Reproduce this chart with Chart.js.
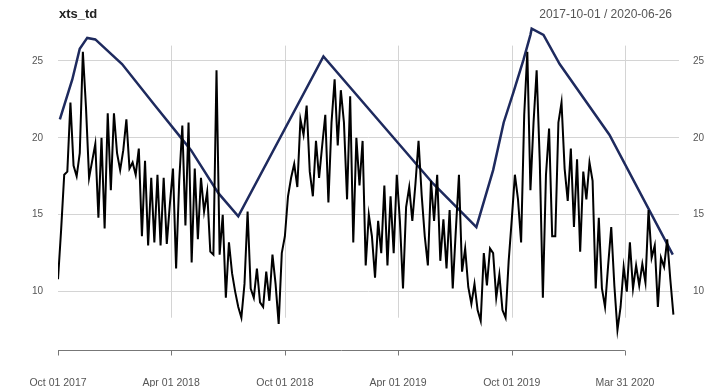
<!DOCTYPE html>
<html>
<head>
<meta charset="utf-8">
<script src="https://cdn.jsdelivr.net/npm/chart.js@4.4.1/dist/chart.umd.min.js"></script>
<style>
  html, body { margin: 0; padding: 0; background: #fff; }
  #wrap { width: 716px; height: 387px; }
</style>
</head>
<body>
<div id="wrap"><canvas id="c" width="716" height="387"></canvas></div>
<script>
// titulo y rango de fechas
const titleText = 'xts_td';
const rangeText = '2017-10-01 / 2020-06-26';

// serie diaria muestreada cada 5 dias desde 2017-10-01
const stepDays = 5;
const tdValues = [
  10.8,14.0,17.6,17.8,22.3,18.2,17.5,19.0,25.6,22.0,17.4,18.5,19.6,14.8,20.0,14.1,21.6,16.6,21.6,19.0,
  17.9,19.2,21.2,18.0,18.4,17.6,19.3,13.6,18.5,13.0,17.4,13.2,17.6,13.0,17.4,13.1,15.7,18.0,11.5,17.2,
  20.8,14.3,21.0,11.9,18.0,13.4,17.4,15.2,16.5,12.6,12.4,24.4,12.4,15.0,9.6,13.2,11.2,10.0,9.0,8.3,
  10.5,15.2,10.2,9.6,11.5,9.3,9.0,11.3,9.4,12.4,10.5,7.9,12.5,13.6,16.2,17.4,18.3,16.8,21.2,20.2,
  22.1,17.8,16.2,19.8,17.4,19.5,21.5,15.8,21.0,23.8,19.5,23.1,21.0,16.0,22.7,13.2,20.0,16.9,19.8,11.7,
  15.0,13.6,10.9,14.6,12.5,16.9,11.7,16.2,12.5,17.6,14.6,10.2,15.5,16.8,14.6,17.0,19.8,16.3,13.6,11.7,
  17.2,14.6,17.6,12.0,14.7,11.5,15.3,10.2,14.0,17.6,11.3,12.8,10.3,9.2,10.5,8.8,8.1,12.5,10.4,12.8,
  12.5,9.6,11.1,8.8,8.3,12.0,14.7,17.6,16.0,13.2,21.5,25.6,16.6,21.0,24.4,18.5,9.6,17.6,20.6,13.6,
  13.6,21.0,22.3,18.0,15.9,19.3,14.2,18.6,12.6,17.8,16.0,18.4,17.2,10.2,14.8,10.2,9.0,11.7,14.2,10.4,
  7.5,9.0,11.6,10.0,13.2,10.2,11.7,10.4,11.8,10.6,15.3,12.2,13.0,9.0,12.2,11.6,13.4,10.8,8.5
];

// linea azul (envolvente), dias desde 2017-10-01
const envDays = [3, 23, 35, 47, 60, 103, 156, 198, 214, 258, 290, 427, 604, 673, 700, 717, 733, 749, 760, 762, 781, 807, 887, 989];
const envValues = [21.2, 23.8, 25.8, 26.5, 26.4, 24.8, 22.1, 20.0, 19.2, 16.4, 14.9, 25.3, 17.0, 14.2, 17.9, 21.0, 23.0, 25.1, 26.7, 27.1, 26.7, 24.8, 20.2, 12.4];

// ejes
const xTickDays = [0, 182, 365, 547, 730, 912];
const xTickLabels = ['Oct 01 2017', 'Apr 01 2018', 'Oct 01 2018', 'Apr 01 2019', 'Oct 01 2019', 'Mar 31 2020'];
const yTicks = [10, 15, 20, 25];
const lastDay = 999;

const font = '"Liberation Sans", Arial, sans-serif';
const gridGris = '#d4d4d4';
const textoGris = '#555';

const tdPoints = tdValues.map((v, i) => ({ x: i * stepDays, y: v }));
const envPoints = envValues.map((v, i) => ({ x: envDays[i], y: v }));

// titulos, rejilla vertical corta y eje x estilo R
const xtsDecor = {
  id: 'xtsDecor',
  beforeDatasetsDraw(chart) {
    const { ctx, chartArea, scales } = chart;
    const x = scales.x, y = scales.y;
    ctx.save();
    ctx.strokeStyle = gridGris;
    ctx.lineWidth = 1;
    const yTop = y.getPixelForValue(26.0);
    const yBot = y.getPixelForValue(8.3);
    xTickDays.slice(1).forEach(d => {
      const px = Math.round(x.getPixelForValue(d)) + 0.5;
      ctx.beginPath(); ctx.moveTo(px, yTop); ctx.lineTo(px, yBot); ctx.stroke();
    });
    ctx.restore();
  },
  afterDraw(chart) {
    const { ctx, chartArea, scales } = chart;
    const x = scales.x;
    ctx.save();
    // eje x
    ctx.strokeStyle = '#777';
    ctx.lineWidth = 1;
    const by = Math.round(chartArea.bottom) + 0.5;
    const x0 = x.getPixelForValue(xTickDays[0]);
    const x1 = x.getPixelForValue(xTickDays[xTickDays.length - 1]);
    ctx.beginPath(); ctx.moveTo(x0, by); ctx.lineTo(x1, by); ctx.stroke();
    xTickDays.forEach(d => {
      const px = Math.round(x.getPixelForValue(d)) + 0.5;
      ctx.beginPath(); ctx.moveTo(px, by); ctx.lineTo(px, by + 5); ctx.stroke();
    });
    // titulos
    ctx.fillStyle = '#222';
    ctx.font = 'bold 13px ' + font;
    ctx.textBaseline = 'alphabetic';
    ctx.textAlign = 'left';
    ctx.fillText(titleText, 59, 18);
    ctx.fillStyle = textoGris;
    ctx.font = '12px ' + font;
    ctx.textAlign = 'right';
    ctx.fillText(rangeText, 672, 18);
    ctx.restore();
  }
};

const yAxisBase = {
  type: 'linear',
  min: 6.2,
  max: 27.6,
  afterBuildTicks: (scale) => { scale.ticks = yTicks.map(v => ({ value: v })); },
  border: { display: false }
};

new Chart(document.getElementById('c'), {
  type: 'line',
  data: {
    datasets: [
      {
        label: 'xts_td',
        data: tdPoints,
        borderColor: '#000',
        borderWidth: 2,
        pointRadius: 0,
        tension: 0,
        fill: false
      },
      {
        label: 'envolvente',
        data: envPoints,
        borderColor: '#1e2a5e',
        borderWidth: 2.5,
        pointRadius: 0,
        tension: 0,
        fill: false
      }
    ]
  },
  options: {
    responsive: false,
    animation: false,
    devicePixelRatio: 1,
    layout: { padding: { top: 13, right: 0, bottom: 0, left: 0 } },
    plugins: {
      legend: { display: false },
      tooltip: { enabled: false },
      title: { display: false }
    },
    scales: {
      x: {
        type: 'linear',
        min: 0,
        max: lastDay,
        afterBuildTicks: (scale) => { scale.ticks = xTickDays.map(v => ({ value: v })); },
        afterFit: (scale) => { scale.height = 37; },
        grid: { display: false },
        border: { display: false },
        ticks: {
          autoSkip: false,
          maxRotation: 0,
          padding: 19,
          color: textoGris,
          font: { family: font, size: 10.5 },
          callback: (v) => xTickLabels[xTickDays.indexOf(v)] || ''
        }
      },
      y: {
        ...yAxisBase,
        position: 'left',
        afterFit: (scale) => { scale.width = 58; },
        grid: { color: gridGris, lineWidth: 1, drawTicks: false },
        ticks: { padding: 15, color: textoGris, font: { family: font, size: 10 } }
      },
      y2: {
        ...yAxisBase,
        position: 'right',
        afterFit: (scale) => { scale.width = 37; },
        grid: { display: false, drawTicks: false },
        ticks: { padding: 14, color: textoGris, font: { family: font, size: 10 } }
      }
    }
  },
  plugins: [xtsDecor]
});
</script>
</body>
</html>
